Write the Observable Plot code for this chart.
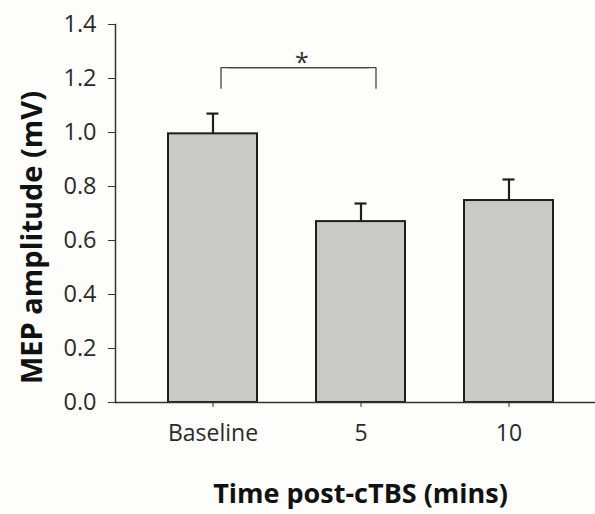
<!DOCTYPE html>
<html><head><meta charset="utf-8">
<script src="https://cdn.jsdelivr.net/npm/d3@7"></script>
<script src="https://cdn.jsdelivr.net/npm/@observablehq/plot@0.6"></script>
<style>
body{margin:0;background:#fdfdfb}
svg{background:#fdfdfb}
</style>
</head><body><div id="chart"></div>
<script>
const categories = ["Baseline", "5", "10"];
const means = [0.995, 0.67, 0.748];
const sems = [0.075, 0.067, 0.078];
const yTicks = [0, 0.2, 0.4, 0.6, 0.8, 1.0, 1.2, 1.4];
const yLabel = "MEP amplitude (mV)";
const xLabel = "Time post-cTBS (mins)";
const sigFrom = "Baseline";
const sigTo = "5";
const sigLow = 1.16;
const sigHigh = 1.24;
const sigText = "*";

const data = categories.map((c, i) => ({cat: c, mean: means[i], top: means[i] + sems[i]}));
const bracketLeft = [{cat: sigFrom, y1: sigLow, y2: sigHigh}];
const bracketRight = [{cat: sigTo, y1: sigLow, y2: sigHigh}];
const bracketTop = [{x1: sigFrom, x2: sigTo, y: sigHigh}];

const ink = "#1e1e1e";
const font = "'Open Sans', sans-serif";

const chart = Plot.plot({
  width: 595,
  height: 514,
  marginLeft: 115,
  marginRight: 0,
  marginTop: 24,
  marginBottom: 112,
  style: {fontFamily: font, fontSize: "23px", color: "#2a2a2a", background: "#fdfdfb"},
  x: {domain: categories, range: [115, 607], paddingInner: 0.396, paddingOuter: 0.35},
  y: {domain: [0, 1.4]},
  marks: [
    Plot.ruleX(data, {x: "cat", y1: "mean", y2: "top", stroke: ink, strokeWidth: 2.2}),
    Plot.tickY(data, {x: "cat", y: "top", stroke: ink, strokeWidth: 2.2, insetLeft: 38.5, insetRight: 38.5}),
    Plot.barY(data, {x: "cat", y: "mean", fill: "#c9c9c7", stroke: ink, strokeWidth: 2}),
    Plot.ruleY([0], {stroke: "#333", strokeWidth: 1.5}),
    Plot.frame({anchor: "left", stroke: "#333", strokeWidth: 1.5}),
    Plot.axisY({ticks: yTicks, tickFormat: d3.format(".1f"), tickSize: 7, tickPadding: 12, label: null, fontSize: 23.5, stroke: "#333"}),
    Plot.axisX({tickSize: 5, tickPadding: 17, label: null, fontSize: 23, stroke: "#333"}),
    Plot.ruleX(bracketLeft, {x: "cat", y1: "y1", y2: "y2", dx: 8, stroke: "#444", strokeWidth: 1.3}),
    Plot.ruleX(bracketRight, {x: "cat", y1: "y1", y2: "y2", dx: 15, stroke: "#444", strokeWidth: 1.3}),
    Plot.link(bracketTop, {x1: "x1", x2: "x2", y1: "y", y2: "y", dx: 8, stroke: "#444", strokeWidth: 1.3}),
    Plot.link(bracketTop, {x1: "x1", x2: "x2", y1: "y", y2: "y", dx: 15, stroke: "#444", strokeWidth: 1.3}),
    Plot.text([sigText], {x: () => sigFrom, y: () => sigHigh, dx: 89, dy: 3, lineAnchor: "bottom", fontSize: 25, fill: "#333"}),
    Plot.text([yLabel], {frameAnchor: "left", textAnchor: "middle", rotate: -90, dx: -83, dy: 24, fontSize: 29, fontWeight: "bold", fill: "#111"}),
    Plot.text([xLabel], {frameAnchor: "bottom", textAnchor: "middle", lineAnchor: "middle", dx: 5, dy: 92, fontSize: 27, fontWeight: "bold", fill: "#111"})
  ]
});
document.getElementById("chart").append(chart);
</script>
</body></html>
